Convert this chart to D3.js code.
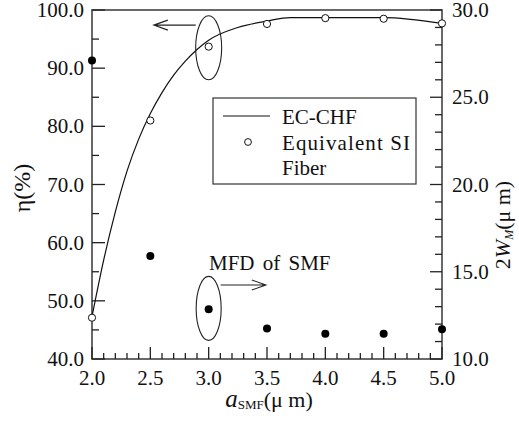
<!DOCTYPE html>
<html>
<head>
<meta charset="utf-8">
<script src="https://cdn.jsdelivr.net/npm/d3@7"></script>
<style>
  html, body { margin: 0; padding: 0; background: #fff; }
  text, tspan { font-family: "Liberation Serif" !important; }
</style>
</head>
<body>
<svg id="chart" width="519" height="423" font-family="Liberation Serif"></svg>
<script>
// Core radius of the single-mode fiber, a_SMF (µm)
const aSMF = [2.0, 2.5, 3.0, 3.5, 4.0, 4.5, 5.0];
// Coupling efficiency of the equivalent step-index fiber (%)
const etaEquivSI = [47.1, 81.0, 93.7, 97.6, 98.6, 98.5, 97.7];
// Mode field diameter of the SMF, 2W_M (µm)
const mfdSMF = [27.1, 15.9, 12.85, 11.75, 11.45, 11.45, 11.7];
// Coupling efficiency curve of the EC-CHF (%)
const curveA   = [2.0, 2.1, 2.2, 2.3, 2.4, 2.5, 2.6, 2.7, 2.8, 2.9, 3.0, 3.25, 3.5, 3.7, 4.0, 4.5, 5.0];
const curveEta = [47.3, 57.0, 65.3, 72.3, 77.8, 82.2, 85.8, 88.8, 91.2, 93.2, 94.8, 97.0, 98.1, 98.7, 98.7, 98.7, 97.7];
// Axis ticks
const xTicks = [2.0, 2.5, 3.0, 3.5, 4.0, 4.5, 5.0];
const yLeftTicks = [40, 50, 60, 70, 80, 90, 100];
const yRightTicks = [10, 15, 20, 25, 30];
const legendLabels = ["EC-CHF", "Equivalent SI", "Fiber"];

const svg = d3.select("#chart");
const L = 92, R = 442, T = 10, B = 359;

const x = d3.scaleLinear().domain([2, 5]).range([L, R]);
const yL = d3.scaleLinear().domain([40, 100]).range([B, T]);
const yR = d3.scaleLinear().domain([10, 30]).range([B, T]);

const ink = "#222";
const fmt = d3.format(".1f");

// Every text element gets its serif face set directly
function addText(parent) {
  return parent.append("text")
    .attr("font-family", "Liberation Serif")
    .style("font-family", "\"Liberation Serif\"")
    .attr("fill", "#111");
}

// Frame
svg.append("rect").attr("x", L).attr("y", T).attr("width", R - L).attr("height", B - T)
  .attr("fill", "none").attr("stroke", "#444").attr("stroke-width", 1.6);

// Ticks drawn inward
const g = svg.append("g").attr("stroke", ink).attr("stroke-width", 1.3);
d3.range(20, 51).map(v => v / 10).forEach(v => {
  const major = Math.abs(v * 2 - Math.round(v * 2)) < 1e-6;
  g.append("line").attr("x1", x(v)).attr("x2", x(v))
    .attr("y1", B).attr("y2", B - (major ? 12 : 6));
});
d3.range(40, 101, 5).forEach(v => {
  const major = v % 10 === 0;
  g.append("line").attr("y1", yL(v)).attr("y2", yL(v))
    .attr("x1", L).attr("x2", L + (major ? 13 : 7));
});
d3.range(10, 31, 1).forEach(v => {
  const major = v % 5 === 0;
  g.append("line").attr("y1", yR(v)).attr("y2", yR(v))
    .attr("x1", R).attr("x2", R - (major ? 12 : 7));
});

// Tick labels
const fs = 21;
xTicks.forEach(d => addText(svg).attr("x", x(d)).attr("y", 385)
  .attr("text-anchor", "middle").attr("font-size", fs).text(fmt(d)));
yLeftTicks.forEach(d => addText(svg).attr("x", 84).attr("y", yL(d) + 7)
  .attr("text-anchor", "end").attr("font-size", fs).text(fmt(d)));
yRightTicks.forEach(d => addText(svg).attr("x", 452).attr("y", yR(d) + 7)
  .attr("text-anchor", "start").attr("font-size", fs).text(fmt(d)));

// Axis titles
const xt = addText(svg).attr("x", 269).attr("y", 407).attr("text-anchor", "middle").attr("font-size", 22);
xt.append("tspan").attr("font-style", "italic").attr("font-size", 25).text("a");
xt.append("tspan").attr("font-size", 13).attr("dy", 2).text("SMF");
xt.append("tspan").attr("dy", -2).text("(μ m)");

addText(svg).attr("transform", "translate(30,188) rotate(-90)")
  .attr("text-anchor", "middle").attr("font-size", 24).text("η(%)");

const rt = addText(svg).attr("transform", "translate(510,225) rotate(-90)")
  .attr("text-anchor", "middle").attr("font-size", 22);
rt.append("tspan").text("2");
rt.append("tspan").attr("font-style", "italic").text("W");
rt.append("tspan").attr("font-style", "italic").attr("font-size", 12).attr("dy", 3).text("M");
rt.append("tspan").attr("dy", -3).text("(μ m)");

// EC-CHF curve
const curvePts = curveA.map((a, i) => [a, curveEta[i]]);
svg.append("path").datum(curvePts)
  .attr("fill", "none").attr("stroke", "#111").attr("stroke-width", 1.2)
  .attr("d", d3.line().x(d => x(d[0])).y(d => yL(d[1])).curve(d3.curveMonotoneX));

// Equivalent SI fiber points (open circles)
svg.selectAll(".si").data(aSMF).enter().append("circle")
  .attr("cx", d => x(d)).attr("cy", (d, i) => yL(etaEquivSI[i])).attr("r", 3.6)
  .attr("fill", "#fff").attr("stroke", "#111").attr("stroke-width", 1);

// MFD of SMF (filled dots, right axis)
svg.selectAll(".mfd").data(aSMF).enter().append("circle")
  .attr("cx", d => x(d)).attr("cy", (d, i) => yR(mfdSMF[i])).attr("r", 4)
  .attr("fill", "#000");

// Annotation ellipses with arrows pointing to the relevant axis
const ann = svg.append("g").attr("fill", "none").attr("stroke", "#222").attr("stroke-width", 1.1);
const e1x = x(3.0), e1y = yL(93.5);
ann.append("ellipse").attr("cx", e1x).attr("cy", e1y).attr("rx", 13).attr("ry", 32);
const a1y = yL(97.4), a1x0 = x(3.0) - 13, a1x1 = x(2.53);
ann.append("path").attr("d", `M${a1x0},${a1y}L${a1x1},${a1y}M${a1x1 + 14},${a1y - 5}L${a1x1},${a1y}L${a1x1 + 14},${a1y + 5}`);

const e2x = x(3.0), e2y = yR(12.9);
ann.append("ellipse").attr("cx", e2x).attr("cy", e2y).attr("rx", 12.5).attr("ry", 32);
const a2y = yR(14.24), a2x0 = x(3.0) + 12, a2x1 = x(3.49);
ann.append("path").attr("d", `M${a2x0},${a2y}L${a2x1},${a2y}M${a2x1 - 14},${a2y - 5}L${a2x1},${a2y}L${a2x1 - 14},${a2y + 5}`);

addText(svg).attr("x", 209).attr("y", 270).attr("font-size", 21)
  .attr("word-spacing", 3).text("MFD of SMF");

// Legend
const lg = svg.append("g");
lg.append("rect").attr("x", 213).attr("y", 98).attr("width", 203).attr("height", 86)
  .attr("fill", "#fff").attr("stroke", "#333").attr("stroke-width", 1.2);
lg.append("line").attr("x1", 223).attr("x2", 270).attr("y1", 116).attr("y2", 116)
  .attr("stroke", "#111").attr("stroke-width", 1.2);
lg.append("circle").attr("cx", 248).attr("cy", 142).attr("r", 3.4)
  .attr("fill", "#fff").attr("stroke", "#111").attr("stroke-width", 1);
legendLabels.forEach((d, i) => {
  const t = addText(lg).attr("x", 282).attr("y", 124 + i * 25.5)
    .attr("font-size", 21).text(d);
  if (d === "Equivalent SI") t.attr("textLength", 128).attr("lengthAdjust", "spacing");
});
</script>
</body>
</html>
